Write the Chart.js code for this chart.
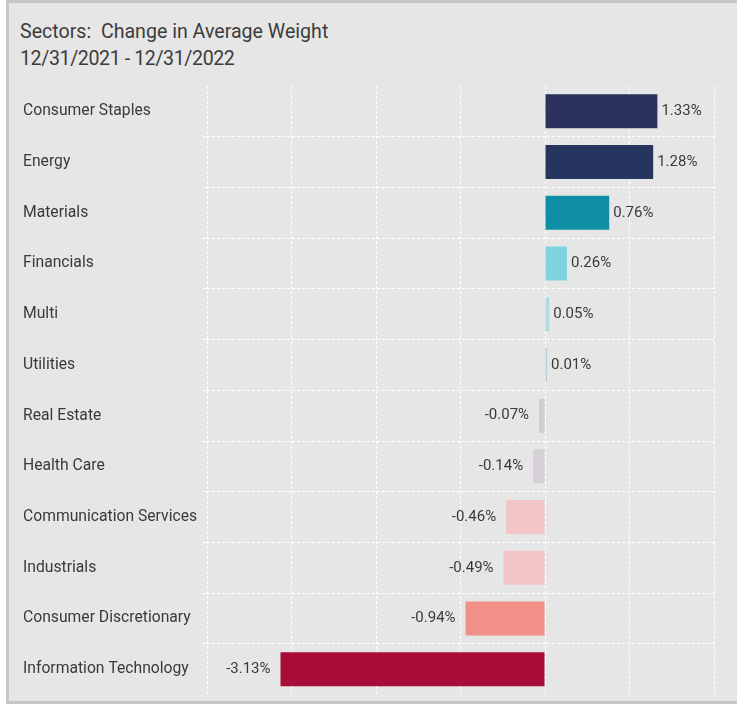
<!DOCTYPE html>
<html><head><meta charset="utf-8">
<script src="https://cdn.jsdelivr.net/npm/chart.js@4.4.1/dist/chart.umd.min.js"></script>
<style>
html,body{margin:0;padding:0;background:#fff;width:737px;height:707px;overflow:hidden;}
#frame{position:absolute;left:6px;top:0;width:760px;height:698px;background:#e6e6e6;border:3px solid #c6c6c6;border-right:none;}
#title{position:absolute;left:20px;top:18px;font-family:Roboto;font-size:19.6px;color:#3c3c3c;line-height:27px;white-space:pre;}
#wrap{position:absolute;left:0;top:0;width:737px;height:707px;}
</style></head>
<body>
<div id="frame"></div>
<div id="title">Sectors:  Change in Average Weight
<span style="letter-spacing:-0.4px">12/31/2021 - 12/31/2022</span></div>
<div id="wrap"><canvas id="c" width="737" height="707"></canvas></div>
<script>
const sectors = ["Consumer Staples","Energy","Materials","Financials","Multi","Utilities","Real Estate","Health Care","Communication Services","Industrials","Consumer Discretionary","Information Technology"];
const changes = [1.33, 1.28, 0.76, 0.26, 0.05, 0.01, -0.07, -0.14, -0.46, -0.49, -0.94, -3.13];
const barColors = ["#2b325e","#263560","#0f8fa5","#7fd3e0","#b2d8e0","#b8ccd8","#c9ced3","#d5d0d5","#f2c5c6","#f2c5c6","#f09089","#a80c38"];
const xMin = -4, xMax = 2;

const valueLabels = {
  id: 'valueLabels',
  afterDatasetsDraw(chart) {
    const ctx = chart.ctx;
    const meta = chart.getDatasetMeta(0);
    ctx.save();
    ctx.font = '15px Roboto';
    ctx.fillStyle = '#3a3a3a';
    ctx.textBaseline = 'middle';
    meta.data.forEach((bar, i) => {
      const v = changes[i];
      const txt = v.toFixed(2) + '%';
      if (v >= 0) { ctx.textAlign = 'left'; ctx.fillText(txt, bar.x + 4, bar.y); }
      else { ctx.textAlign = 'right'; ctx.fillText(txt, bar.x - 10, bar.y); }
    });
    ctx.restore();
  }
};

Chart.defaults.font.family = 'Roboto';
new Chart(document.getElementById('c'), {
  type: 'bar',
  data: { labels: sectors, datasets: [{ data: changes, backgroundColor: barColors, barPercentage: 0.67, categoryPercentage: 1, minBarLength: 2 }] },
  options: {
    indexAxis: 'y',
    responsive: false,
    animation: false,
    layout: { padding: { left: 23, right: 23, top: 86, bottom: 4.5 } },
    plugins: { legend: { display: false }, tooltip: { enabled: false } },
    scales: {
      x: {
        min: xMin, max: xMax,
        ticks: { display: false, stepSize: 1 },
        border: { display: false, dash: [3,2] },
        grid: { color: '#ffffff', lineWidth: 1, drawTicks: false },
        afterFit(s) { s.height = 0; }
      },
      y: {
        ticks: { crossAlign: 'far', color: '#3a3a3a', font: { size: 15.7 } },
        border: { display: false, dash: [3,2] },
        grid: { offset: true, tickLength: 4,
          color: (c) => (c.index === undefined || c.index === 0) ? 'rgba(0,0,0,0)' : '#ffffff' },
        afterFit(s) { s.width = 184; }
      }
    }
  },
  plugins: [valueLabels]
});
</script>
</body></html>
